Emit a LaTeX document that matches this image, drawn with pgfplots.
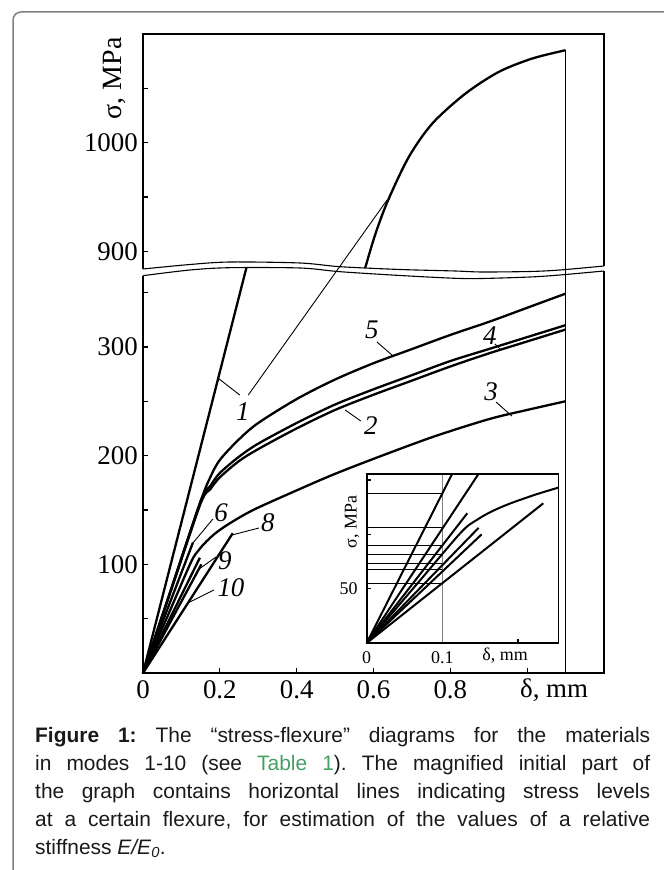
\documentclass[border=0pt]{standalone}
\usepackage{fontspec}
\setmainfont{Liberation Serif}
\newfontfamily\capfont{Liberation Sans}
\usepackage{pgfplots}
\pgfplotsset{compat=1.18}
\definecolor{tablegreen}{HTML}{46A064}
\definecolor{framegray}{HTML}{808080}

\pgfplotsset{
  panel/.style={
    scale only axis, clip=false,
    axis line style={draw=none},
    tick align=inside, major tick length=5bp,
    tick style={black, line width=1.2bp},
    xtick pos=bottom, ytick pos=left,
    ticklabel style={font=\fontsize{27}{27}\selectfont, inner sep=0pt},
    /pgf/number format/assume math mode=true,
    xticklabel style={yshift=-7.5bp},
    yticklabel style={xshift=-5bp},
  },
  curve/.style={black, line width=2.3bp, smooth, no markers},
}
\tikzset{
  leader/.style={black, line width=0.9bp},
  lab/.style={font=\fontsize{27}{27}\selectfont\itshape, inner sep=0pt},
}

\begin{document}
\frenchspacing
\begin{tikzpicture}

% outer frame
\begin{scope}[x=1bp, y=1bp]
\draw[framegray, line width=1.5bp] (13,0) -- (13,850) arc[start angle=180, end angle=90, radius=8] -- (664,858);
\end{scope}

% ---------------- lower part, 0..368 MPa
\begin{axis}[panel, name=lower, at={(143bp,197bp)}, anchor=south west,
  width=461bp, height=400bp, xmin=0, xmax=1.2, ymin=0, ymax=368,
  xtick={0,0.2,0.4,0.6,0.8,1.0}, xticklabels={0,0.2,0.4,0.6,0.8,{}},
  ytick={50,100,150,200,250,300,350}, yticklabels={{},100,{},200,{},300,{}}]
% curve 1 (lower branch)
\addplot[curve] coordinates {(0,0) (0.27,374)};
% curves 5, 4, 2
\addplot[curve] coordinates {(0,0) (0.075,79) (0.15,158) (0.175,180) (0.2,196) (0.25,215)
  (0.3,230) (0.4,252) (0.5,270) (0.6,285) (0.7,298) (0.8,311) (0.9,323) (1.0,336) (1.1,349)};
\addplot[curve] coordinates {(0,0) (0.075,79) (0.15,158) (0.175,172) (0.2,184) (0.25,199)
  (0.3,211) (0.4,230) (0.5,247) (0.6,261) (0.7,274) (0.8,287) (0.9,298) (1.0,309) (1.1,320)};
\addplot[curve] coordinates {(0,0) (0.075,78) (0.15,156) (0.175,169) (0.2,180) (0.25,195)
  (0.3,206) (0.4,225) (0.5,242) (0.6,256) (0.7,269) (0.8,282) (0.9,294) (1.0,305) (1.1,316)};
% curve 3
\addplot[curve] coordinates {(0,0) (0.07,57.2) (0.125,102) (0.145,113) (0.165,121) (0.19,129)
  (0.225,137.5) (0.287,150) (0.4,168) (0.495,182.5) (0.6,197) (0.753,217) (0.9,233.5) (1.0,242) (1.1,250)};
% curves 6, 9, 10, 8
\addplot[curve] coordinates {(0,0) (0.13,120)};
\addplot[curve] coordinates {(0,0) (0.148,106)};
\addplot[curve] coordinates {(0,0) (0.152,100)};
\addplot[curve] coordinates {(0,0) (0.2336,128.6)};

\draw[line width=2bp] (rel axis cs:0,1) -- (rel axis cs:0,0) -- (rel axis cs:1,0) -- ([yshift=4bp]rel axis cs:1,1);

\coordinate (vbot) at (axis cs:1.1,0);
\coordinate (l1b) at (axis cs:0.274,255.7);

\node[lab] at (axis cs:0.260,240.1) {1};
\draw[leader] (axis cs:0.196,271.1) -- (axis cs:0.252,255.7);
\node[lab] at (axis cs:0.596,315.5) {5};
\draw[leader] (axis cs:0.609,304.5) -- (axis cs:0.651,291.6);
\node[lab] at (axis cs:0.903,310.0) {4};
\draw[leader] (axis cs:0.916,302.7) -- (axis cs:0.929,298.1);
\node[lab] at (axis cs:0.593,227.2) {2};
\draw[leader] (axis cs:0.526,242) -- (axis cs:0.567,231.8);
\node[lab] at (axis cs:0.906,258.5) {3};
\draw[leader] (axis cs:0.919,249.3) -- (axis cs:0.960,236.4);
\node[lab] at (axis cs:0.203,147.2) {6};
\draw[leader] (axis cs:0.182,141.7) -- (axis cs:0.130,119.6);
\node[lab] at (axis cs:0.325,138.0) {8};
\draw[leader] (axis cs:0.302,133.4) -- (axis cs:0.232,127);
\node[lab] at (axis cs:0.213,103.0) {9};
\draw[leader] (axis cs:0.190,106.7) -- (axis cs:0.146,95.7);
\node[lab] at (axis cs:0.229,78.5) {10};
\draw[leader] (axis cs:0.185,76.4) -- (axis cs:0.117,64.4);

\node[font=\fontsize{27}{27}\selectfont, inner sep=0pt] at (axis cs:1.07,-15.6) {δ, mm};
\end{axis}

% ---------------- upper part, 880..1100 MPa
\begin{axis}[panel, name=upper, at={(143bp,597bp)}, anchor=south west,
  width=461bp, height=239.1bp, xmin=0, xmax=1.2, ymin=880, ymax=1100,
  xtick=\empty, ytick={900,950,1000,1050}, yticklabels={900,{},1000,{}}]
% curve 1 (upper branch)
\addplot[curve] coordinates {(0.574,880) (0.579,885.5) (0.605,916) (0.638,947) (0.692,986.8)
  (0.753,1017.5) (0.839,1045) (0.926,1065) (1.013,1077.3) (1.1,1085)};
\draw[line width=2bp] (rel axis cs:0,0) -- (rel axis cs:0,1) -- (rel axis cs:1,1) -- ([yshift=4bp]rel axis cs:1,0);
\coordinate (vtop) at (axis cs:1.1,1085);
\coordinate (c1pt) at (axis cs:0.635,947);
\node[font=\fontsize{28}{28}\selectfont, inner sep=0pt, rotate=90] at (axis cs:-0.073,1059) {σ, MPa};
\end{axis}

% axis break
\begin{scope}[x=1bp, y=1bp]
\fill[white] plot[smooth] coordinates {(141,601) (143,601) (190,605.5) (230,608) (300,607) (340,603.3)
  (400,600.5) (455,599) (482,598) (530,598.5) (560,600) (604,604) (606,604.2)}
  -- plot[smooth] coordinates {(606,599) (604,599) (560,595) (530,593) (482,591.5) (455,591.7)
  (400,594.5) (340,598.3) (300,602) (230,602.3) (190,600) (143,594.3) (141,594)} -- cycle;
\draw[line width=1.1bp] plot[smooth] coordinates {(143,601) (190,605.5) (230,608) (300,607) (340,603.3)
  (400,600.5) (455,599) (482,598) (530,598.5) (560,600) (604,604)};
\draw[line width=1.1bp] plot[smooth] coordinates {(143,594.3) (190,600) (230,602.3) (300,602) (340,598.3)
  (400,594.5) (455,591.7) (482,591.5) (530,593) (560,595) (604,599)};
\end{scope}

\draw[leader] (vbot) -- (vtop);
\draw[leader] (l1b) -- (c1pt);

% ---------------- inset
\begin{axis}[panel, at={(366.7bp,227bp)}, anchor=south west,
  width=191.8bp, height=168.7bp, xmin=0, xmax=0.2537, ymin=0, ymax=155.3,
  axis background/.style={fill=white}, major tick length=4bp,
  ticklabel style={font=\fontsize{18}{18}\selectfont},
  xticklabel style={yshift=-1bp}, yticklabel style={xshift=-4bp},
  xtick={0,0.1,0.2}, xticklabels={0,0.1,{}},
  ytick={50,100,150}, yticklabels={50,{},{}}]
\addplot[gray, line width=0.8bp] coordinates {(0.1,0) (0.1,155.3)};
\addplot[black, line width=0.8bp] coordinates {(0,137.8) (0.1,137.8)};
\addplot[black, line width=1.6bp] coordinates {(0,106.2) (0.1,106.2)};
\addplot[black, line width=0.8bp] coordinates {(0,90.2) (0.1,90.2)};
\addplot[black, line width=0.8bp] coordinates {(0,81.7) (0.1,81.7)};
\addplot[black, line width=0.8bp] coordinates {(0,73.0) (0.1,73.0)};
\addplot[black, line width=1.6bp] coordinates {(0,67.5) (0.1,67.5)};
\addplot[black, line width=0.8bp] coordinates {(0,55.2) (0.1,55.2)};
\addplot[curve, line width=2bp] coordinates {(0,0) (0.1128,155.3)};
\addplot[curve, line width=2bp] coordinates {(0,0) (0.1476,155.3)};
\addplot[curve, line width=2bp] coordinates {(0,0) (0.133,119.4)};
\addplot[curve, line width=2bp] coordinates {(0,0) (0.07,57.2) (0.125,102) (0.145,113) (0.165,121)
  (0.19,128.5) (0.225,137) (0.2534,143)};
\addplot[curve, line width=2bp] coordinates {(0,0) (0.148,106)};
\addplot[curve, line width=2bp] coordinates {(0,0) (0.152,100)};
\addplot[curve, line width=2bp] coordinates {(0,0) (0.2336,128.6)};
\draw[line width=1.8bp] (rel axis cs:0,0) rectangle (rel axis cs:1,1);
\node[font=\fontsize{18}{18}\selectfont, inner sep=0pt] at (axis cs:0.183,-12) {δ, mm};
\node[font=\fontsize{18}{18}\selectfont, inner sep=0pt, rotate=90] at (axis cs:-0.0194,111.4) {σ, MPa};
\end{axis}

% caption
\begin{scope}[x=1bp, y=1bp]
\node[anchor=north west, inner sep=0pt, align=left, text=black!90,
      font={\capfont\fontsize{21}{28.3}\selectfont}] at (35,143.3)
  {\makebox[615bp][s]{\textbf{Figure 1:} The “stress-flexure” diagrams for the materials}\\
   \makebox[615bp][s]{in modes 1-10 (see \textcolor{tablegreen}{Table 1}). The magnified initial part of}\\
   \makebox[615bp][s]{the graph contains horizontal lines indicating stress levels}\\
   \makebox[615bp][s]{at a certain flexure, for estimation of the values of a relative}\\
   stiffness \textit{E/E}\textsubscript{\textit{0}}.};
\pgfresetboundingbox
\useasboundingbox (0,0) rectangle (664,870);
\end{scope}
\end{tikzpicture}
\end{document}
